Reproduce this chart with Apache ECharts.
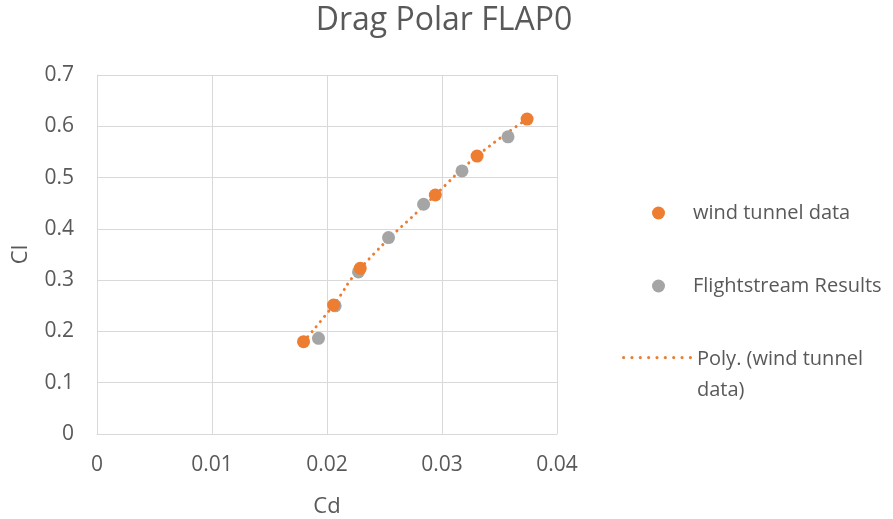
<!DOCTYPE html>
<html><head><meta charset="utf-8">
<script src="https://cdn.jsdelivr.net/npm/echarts@6/dist/echarts.min.js"></script>
<style>html,body{margin:0;padding:0;background:#fff}#c{width:893px;height:519px}</style>
</head><body><div id="c"></div>
<script>
var windTunnelCd = [0.01796, 0.02057, 0.02289, 0.02942, 0.03305, 0.03740];
var windTunnelCl = [0.180, 0.2515, 0.323, 0.466, 0.542, 0.614];
var flightCd = [0.01926, 0.02071, 0.02274, 0.02535, 0.02840, 0.03174, 0.03574];
var flightCl = [0.1865, 0.250, 0.316, 0.383, 0.448, 0.513, 0.5795];
var xTicks = [0, 0.01, 0.02, 0.03, 0.04];
var yTicks = [0, 0.1, 0.2, 0.3, 0.4, 0.5, 0.6, 0.7];

function pairs(a, b) { return a.map(function (v, i) { return [v, b[i]]; }); }

// legend icon: row of dots at the top of a 70x38 box
var dotPath = 'path://M0,38L0.01,38';
for (var i = 0; i < 9; i++) {
  var cx = 1.6 + i * (70 - 3.2) / 8;
  dotPath += 'M' + (cx - 1.6).toFixed(2) + ',1.6a1.6,1.6 0 1,0 3.2,0a1.6,1.6 0 1,0 -3.2,0Z';
}

var FONT = '"Open Sans", sans-serif';
var chart = echarts.init(document.getElementById('c'), null, {renderer: 'canvas'});
chart.setOption({
  animation: false,
  title: {
    text: 'Drag Polar FLAP0', left: 439, top: 0, textAlign: 'center',
    textStyle: {fontFamily: FONT, fontSize: 32, fontWeight: 'normal', color: '#595959'}
  },
  grid: {left: 97, right: 336, top: 75, bottom: 85, containLabel: false, outerBoundsMode: 'none'},
  xAxis: {
    type: 'value', min: 0, max: 0.04, interval: 0.01,
    name: 'Cd', nameLocation: 'middle', nameGap: 62,
    nameTextStyle: {fontFamily: FONT, fontSize: 22, color: '#595959'},
    axisLine: {show: true, lineStyle: {color: '#D9D9D9', width: 1}},
    axisTick: {show: false},
    axisLabel: {fontFamily: FONT, fontSize: 21, color: '#595959', margin: 21,
      formatter: function (v) { return xTicks.indexOf(+v.toFixed(2)) >= 0 ? String(+v.toFixed(2)) : ''; }},
    splitLine: {show: true, lineStyle: {color: '#D9D9D9', width: 1}}
  },
  yAxis: {
    type: 'value', min: 0, max: 0.7, interval: 0.1,
    name: 'Cl', nameLocation: 'middle', nameGap: 65, nameRotate: 90,
    nameTextStyle: {fontFamily: FONT, fontSize: 22, color: '#595959'},
    axisLine: {show: true, lineStyle: {color: '#D9D9D9', width: 1}},
    axisTick: {show: false},
    axisLabel: {fontFamily: FONT, fontSize: 21, color: '#595959', margin: 23,
      formatter: function (v) { return yTicks.indexOf(+v.toFixed(1)) >= 0 ? String(+v.toFixed(1)) : ''; }},
    splitLine: {show: true, lineStyle: {color: '#D9D9D9', width: 1}}
  },
  legend: [
    {
      data: ['wind tunnel data', 'Flightstream Results'],
      orient: 'vertical', left: 647, top: 198, itemWidth: 13, itemHeight: 13, itemGap: 53,
      textStyle: {fontFamily: FONT, fontSize: 20, color: '#595959', padding: [0, 0, 0, 23]}
    },
    {
      data: [{name: 'Poly. (wind tunnel\ndata)', icon: dotPath}],
      orient: 'vertical', left: 617, top: 339, itemWidth: 70, itemHeight: 38,
      textStyle: {fontFamily: FONT, fontSize: 20, color: '#595959', lineHeight: 31}
    }
  ],
  series: [
    {
      name: 'Poly. (wind tunnel\ndata)', type: 'line', smooth: true, symbol: 'none',
      data: pairs(windTunnelCd, windTunnelCl), z: 1,
      itemStyle: {color: '#ED7D31'},
      lineStyle: {color: '#ED7D31', width: 3, type: [0.1, 6.5], cap: 'round'}
    },
    {
      name: 'Flightstream Results', type: 'scatter', symbolSize: 13, z: 2,
      data: pairs(flightCd, flightCl), itemStyle: {color: '#A5A5A5', opacity: 1}
    },
    {
      name: 'wind tunnel data', type: 'scatter', symbolSize: 13, z: 3,
      data: pairs(windTunnelCd, windTunnelCl), itemStyle: {color: '#ED7D31', opacity: 1}
    }
  ]
});
</script></body></html>
